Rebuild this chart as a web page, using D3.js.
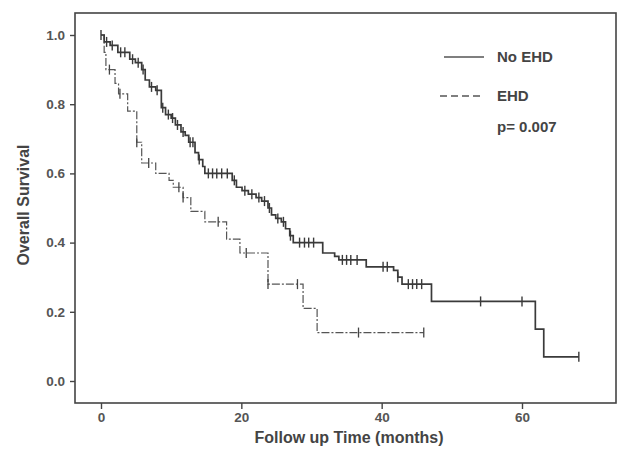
<!DOCTYPE html>
<html><head><meta charset="utf-8">
<script src="https://cdn.jsdelivr.net/npm/d3@7"></script>
<style>body{margin:0;background:#fff}svg{display:block}text{font-family:"Liberation Sans",Arial,sans-serif}</style>
</head><body><svg id="c" width="618" height="459"></svg>
<script>
// No EHD group: step times and survival after each step
const noEhdTimes = [0, 0.45, 1.3, 2.4, 4.1, 4.9, 5.8, 6.3, 6.9, 7.8, 8.6, 9.2, 10.0, 10.6, 11.4, 12.0, 12.5, 13.4, 13.9, 14.5, 14.8, 18.7, 19.3, 20.1, 21.0, 22.1, 22.9, 23.8, 24.3, 24.9, 25.7, 26.3, 26.9, 27.4, 31.6, 33.3, 33.9, 37.8, 41.7, 42.3, 42.9, 47.1, 61.9, 63.1, 68.1];
const noEhdSurv  = [1.0, 0.98, 0.97, 0.95, 0.93, 0.92, 0.90, 0.87, 0.85, 0.84, 0.79, 0.77, 0.76, 0.74, 0.72, 0.71, 0.69, 0.66, 0.64, 0.62, 0.60, 0.58, 0.56, 0.55, 0.54, 0.53, 0.52, 0.50, 0.48, 0.47, 0.46, 0.44, 0.42, 0.40, 0.37, 0.36, 0.35, 0.33, 0.32, 0.30, 0.28, 0.23, 0.15, 0.07, 0.07];
const noEhdCensored = [0, 0.8, 1.6, 2.8, 3.4, 4.5, 5.3, 6.0, 7.2, 8.0, 8.8, 9.6, 10.2, 10.9, 11.7, 12.7, 13.1, 14.0, 15.3, 15.9, 16.5, 17.2, 18.0, 19.0, 20.5, 21.5, 22.5, 23.3, 24.0, 25.2, 26.0, 27.0, 28.3, 29.0, 29.6, 30.3, 34.4, 35.0, 35.6, 36.5, 40.2, 40.8, 42.3, 43.8, 44.4, 45.0, 45.7, 54.1, 60.0, 68.1];
// EHD group
const ehdTimes = [0, 0.45, 0.7, 2.0, 2.5, 3.8, 5.1, 5.8, 7.8, 9.7, 10.3, 11.7, 12.8, 14.8, 17.9, 19.8, 23.8, 28.8, 30.8, 46.0];
const ehdSurv  = [1.0, 0.95, 0.90, 0.86, 0.83, 0.78, 0.69, 0.63, 0.60, 0.58, 0.56, 0.53, 0.49, 0.46, 0.41, 0.37, 0.28, 0.21, 0.14, 0.14];
const ehdCensored = [1.2, 2.7, 5.1, 6.8, 11.1, 11.7, 16.7, 20.7, 23.8, 28.0, 36.7, 46.0];
const xTicks = [0, 20, 40, 60];
const yTicks = [0, 0.2, 0.4, 0.6, 0.8, 1.0];
const groupNames = ["No EHD", "EHD"];
const pText = "p= 0.007";

const svg = d3.select("#c");
const x = d3.scaleLinear().domain([0, 60]).range([101, 522]);
const y = d3.scaleLinear().domain([0, 1]).range([381, 35]);
const frame = {l: 75, t: 13, r: 616, b: 403};
const ink = "#3a3a3a";

svg.append("rect").attr("x", frame.l).attr("y", frame.t)
  .attr("width", frame.r - frame.l).attr("height", frame.b - frame.t)
  .attr("fill", "none").attr("stroke", "#444").attr("stroke-width", 1.6);

const yAxis = d3.axisLeft(y).tickValues(yTicks).tickFormat(d3.format(".1f")).tickSize(5).tickPadding(5);
const gy = svg.append("g").attr("transform", `translate(${frame.l},0)`).call(yAxis);
gy.select(".domain").remove();
const xAxis = d3.axisBottom(x).tickValues(xTicks).tickFormat(d3.format("d")).tickSize(6).tickPadding(3);
const gx = svg.append("g").attr("transform", `translate(0,${frame.b})`).call(xAxis);
gx.select(".domain").remove();
[gx, gy].forEach(g => {
  g.selectAll("line").attr("stroke", "#444").attr("stroke-width", 1.4);
  g.selectAll("text").attr("fill", "#555").attr("font-size", 13.5).attr("font-weight", "bold");
});

svg.append("text").attr("x", 349).attr("y", 443).attr("text-anchor", "middle")
  .attr("font-size", 16).attr("font-weight", "bold").attr("fill", "#444").text("Follow up Time (months)");
svg.append("text").attr("transform", "translate(29,205) rotate(-90)").attr("text-anchor", "middle")
  .attr("font-size", 16).attr("font-weight", "bold").attr("fill", "#444").text("Overall Survival");

function stepVal(times, surv, t) {
  let v = surv[0];
  for (let i = 0; i < times.length; i++) if (times[i] <= t + 1e-9) v = surv[i];
  return v;
}
const line = d3.line().x(d => x(d[0])).y(d => y(d[1])).curve(d3.curveStepAfter);

// EHD curve
svg.append("path").datum(d3.zip(ehdTimes, ehdSurv)).attr("d", line)
  .attr("fill", "none").attr("stroke", "#555").attr("stroke-width", 1.2).attr("stroke-dasharray", "8,2,2,2");
svg.append("g").selectAll("line").data(ehdCensored).join("line")
  .attr("x1", d => x(d)).attr("x2", d => x(d))
  .attr("y1", d => y(stepVal(ehdTimes, ehdSurv, d)) - 5).attr("y2", d => y(stepVal(ehdTimes, ehdSurv, d)) + 5)
  .attr("stroke", "#444").attr("stroke-width", 1.3);

// No EHD curve
svg.append("path").datum(d3.zip(noEhdTimes, noEhdSurv)).attr("d", line)
  .attr("fill", "none").attr("stroke", ink).attr("stroke-width", 1.7);
svg.append("g").selectAll("line").data(noEhdCensored).join("line")
  .attr("x1", d => x(d)).attr("x2", d => x(d))
  .attr("y1", d => y(stepVal(noEhdTimes, noEhdSurv, d)) - 5).attr("y2", d => y(stepVal(noEhdTimes, noEhdSurv, d)) + 5)
  .attr("stroke", ink).attr("stroke-width", 1.4);

// legend
svg.append("line").attr("x1", 444).attr("x2", 484).attr("y1", 57).attr("y2", 57).attr("stroke", "#555").attr("stroke-width", 1.3);
svg.append("line").attr("x1", 440).attr("x2", 484).attr("y1", 96).attr("y2", 96).attr("stroke", "#555").attr("stroke-width", 1.3).attr("stroke-dasharray", "7,4");
const leg = [[groupNames[0], 62], [groupNames[1], 101], [pText, 132]];
svg.append("g").selectAll("text").data(leg).join("text")
  .attr("x", 497).attr("y", d => d[1]).attr("font-size", 15).attr("font-weight", "bold").attr("fill", "#444").text(d => d[0]);
</script></body></html>
